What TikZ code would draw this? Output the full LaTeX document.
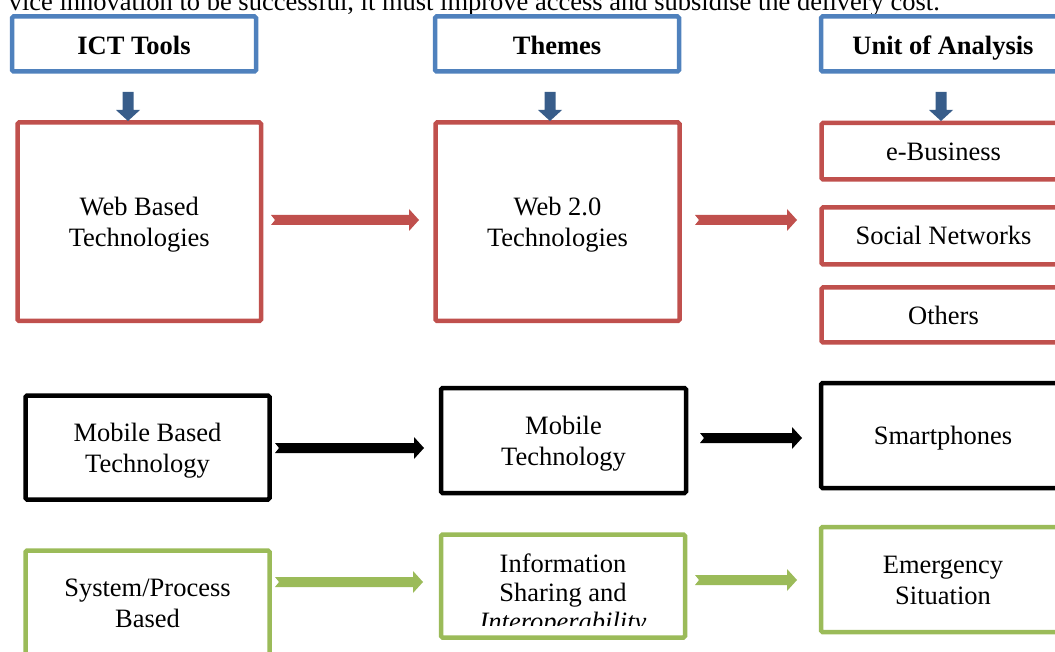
\documentclass[tikz,border=0pt]{standalone}
\usepackage{fontspec}
\setmainfont{Liberation Serif}
\usetikzlibrary{calc}
\definecolor{hdrblue}{HTML}{4F81BD}
\definecolor{dnblue}{HTML}{385D8A}
\definecolor{boxred}{HTML}{C0504D}
\definecolor{boxgreen}{HTML}{9BBB59}
\newcommand\blockH[3]{\fill[#1] let \p1=(#2), \p2=(#3) in (\x1,\y1+5pt) -- (\x2-10pt,\y1+5pt) -- (\x2-10pt,\y1+11pt) -- (\x2,\y1) -- (\x2-10pt,\y1-11pt) -- (\x2-10pt,\y1-5pt) -- (\x1,\y1-5pt) -- (\x1+4pt,\y1) -- cycle;}
\newcommand\blockV[3]{\fill[#1] let \p1=(#2), \p2=(#3) in (\x1-5.5pt,\y1) -- (\x1-5.5pt,\y2+11pt) -- (\x1-12pt,\y2+11pt) -- (\x1,\y2) -- (\x1+12pt,\y2+11pt) -- (\x1+5.5pt,\y2+11pt) -- (\x1+5.5pt,\y1) -- cycle;}
\begin{document}
\begin{tikzpicture}[x=1pt,y=-1pt,
  txt/.style={font=\fontsize{26.5}{31}\selectfont, align=center},
  box/.style={draw=#1, line width=4.5pt, rounded corners=1.5pt, fill=white, inner sep=0pt, txt,
    execute at begin node={\rule{0pt}{26pt}}, execute at end node={\rule[-8pt]{0pt}{8pt}}},
  twoline/.style={execute at begin node={\rule{0pt}{58.5pt}}},
  hdr/.style={box=hdrblue, font=\fontsize{26.5}{31}\selectfont\bfseries, minimum width=244pt, minimum height=55pt,
    execute at begin node={\rule{0pt}{29pt}}}
]
\useasboundingbox (0,0) rectangle (1055,652);
\clip (0,0) rectangle (1055,652);
% top running text
\node[anchor=base east, txt, inner sep=0pt] (toptext) at (940,10.5) {vice innovation to be successful, it must improve access and subsidise the delivery cost.};
% headers
\node[hdr] (ict) at (134,44) {ICT Tools};
\node[hdr] (themes) at (557,44) {Themes};
\node[hdr] (unit) at (943,44) {Unit of Analysis};
% red row
\node[box=boxred, twoline, minimum width=243.5pt, minimum height=198.5pt] (web) at (139.25,221.75) {Web Based\\Technologies};
\node[box=boxred, twoline, minimum width=244pt, minimum height=198.5pt] (web2) at (557.5,221.75) {Web 2.0\\Technologies};
\node[box=boxred, minimum width=244pt, minimum height=56.5pt] (ebiz) at (943.5,151.25) {e-Business};
\node[box=boxred, minimum width=244pt, minimum height=57pt] (social) at (943.5,236) {Social Networks};
\node[box=boxred, minimum width=244pt, minimum height=55pt] (others) at (943.5,315) {Others};
% black row
\node[box=black, twoline, minimum width=244pt, minimum height=104pt] (mobbased) at (147.5,447.5) {Mobile Based\\Technology};
\node[box=black, twoline, minimum width=245pt, minimum height=105pt] (mobtech) at (563.5,440.5) {Mobile\\Technology};
\node[box=black, minimum width=244pt, minimum height=105pt] (smart) at (943,435.5) {Smartphones};
% green row
\node[box=boxgreen, twoline, minimum width=244pt, minimum height=104pt] (sys) at (147.5,602.5) {System/Process\\Based};
\node[box=boxgreen, minimum width=244pt, minimum height=103pt, execute at begin node={}, execute at end node={}] (info) at (563,586) {};
\begin{scope}
  \clip (443,537) rectangle (683,625);
  \node[txt, font=\fontsize{26.5}{29}\selectfont, anchor=north, inner sep=0pt] (infotext) at (563,554) {Information\\Sharing and\\\textit{Interoperability}};
\end{scope}
\node[box=boxgreen, twoline, minimum width=244pt, minimum height=105pt] (emerg) at (943,579.5) {Emergency\\Situation};
% down arrows
\coordinate (d1s) at (128,92);  \coordinate (d1e) at (128,121);
\coordinate (d2s) at (550,92);  \coordinate (d2e) at (550,121);
\coordinate (d3s) at (941,92);  \coordinate (d3e) at (941,121);
\blockV{dnblue}{d1s}{d1e}
\blockV{dnblue}{d2s}{d2e}
\blockV{dnblue}{d3s}{d3e}
% horizontal arrows
\coordinate (r1s) at (271,220); \coordinate (r1e) at (419,220);
\coordinate (r2s) at (695,220); \coordinate (r2e) at (797,220);
\coordinate (b1s) at (275,448); \coordinate (b1e) at (424,448);
\coordinate (b2s) at (700,438); \coordinate (b2e) at (802,438);
\coordinate (g1s) at (275,582); \coordinate (g1e) at (423,582);
\coordinate (g2s) at (695,580); \coordinate (g2e) at (797,580);
\blockH{boxred}{r1s}{r1e}
\blockH{boxred}{r2s}{r2e}
\blockH{black}{b1s}{b1e}
\blockH{black}{b2s}{b2e}
\blockH{boxgreen}{g1s}{g1e}
\blockH{boxgreen}{g2s}{g2e}
\end{tikzpicture}
\end{document}
